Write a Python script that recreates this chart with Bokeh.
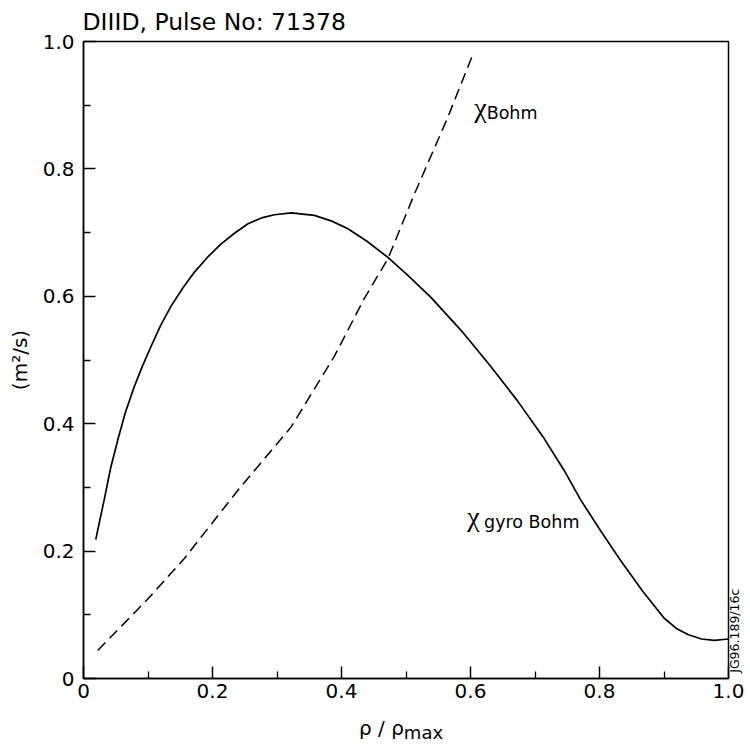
import math
from bokeh.plotting import figure
from bokeh.models import Label, FixedTicker, Range1d, LinearAxis, Div
from bokeh.layouts import column
from bokeh.embed import file_html
from bokeh.resources import INLINE

# ---- data ----
rho_gyro_bohm = [0.019, 0.026, 0.032, 0.042, 0.053, 0.065, 0.079, 0.092, 0.105, 0.120,
                 0.136, 0.154, 0.172, 0.192, 0.213, 0.234, 0.255, 0.276, 0.296, 0.322,
                 0.358, 0.385, 0.410, 0.440, 0.472, 0.505, 0.539, 0.585, 0.629, 0.672,
                 0.714, 0.745, 0.771, 0.803, 0.833, 0.867, 0.900, 0.920, 0.937, 0.958,
                 0.978, 1.000]
chi_gyro_bohm = [0.218, 0.252, 0.280, 0.330, 0.374, 0.418, 0.459, 0.492, 0.522, 0.555,
                 0.585, 0.613, 0.638, 0.661, 0.682, 0.699, 0.714, 0.723, 0.728, 0.731,
                 0.727, 0.718, 0.706, 0.686, 0.661, 0.631, 0.598, 0.547, 0.493, 0.437,
                 0.377, 0.327, 0.280, 0.230, 0.185, 0.137, 0.095, 0.078, 0.069, 0.062,
                 0.060, 0.062]

rho_bohm = [0.022, 0.099, 0.156, 0.239, 0.322, 0.389, 0.435, 0.472, 0.512, 0.530, 0.564, 0.603]
chi_bohm = [0.044, 0.124, 0.188, 0.295, 0.395, 0.506, 0.596, 0.659, 0.758, 0.800, 0.879, 0.978]

x_ticks = [0.0, 0.2, 0.4, 0.6, 0.8, 1.0]
x_tick_labels = ["0", "0.2", "0.4", "0.6", "0.8", "1.0"]
x_minor_ticks = [0.1, 0.3, 0.5, 0.7, 0.9]
y_ticks = [0.0, 0.2, 0.4, 0.6, 0.8, 1.0]
y_tick_labels = ["0", "0.2", "0.4", "0.6", "0.8", "1.0"]
y_minor_ticks = [0.1, 0.3, 0.5, 0.7, 0.9]

title_text = "DIIID, Pulse No: 71378"
y_label = "(m\u00b2/s)"
fig_code = "JG96.189/16c"
fig_code_pos = 0.009

FONT = "DejaVu Sans"
SERIF = "Liberation Serif"

p = figure(frame_width=645, frame_height=637,
           x_range=Range1d(0, 1), y_range=Range1d(0, 1),
           min_border_left=83, min_border_right=15,
           min_border_top=41, min_border_bottom=30,
           output_backend="svg", toolbar_location=None,
           title=title_text, background_fill_color="white",
           border_fill_color="white")

p.title.text_font = FONT
p.title.text_font_size = "23.5px"
p.title.text_font_style = "normal"
p.title.align = "left"
p.title.offset = -1
p.title.standoff = 11
p.title.text_color = "black"

p.grid.visible = False
p.outline_line_color = "black"
p.outline_line_width = 1.5
p.outline_line_alpha = 1.0

for ax, ticks, minor, labels in ((p.xaxis[0], x_ticks, x_minor_ticks, x_tick_labels),
                                 (p.yaxis[0], y_ticks, y_minor_ticks, y_tick_labels)):
    ax.ticker = FixedTicker(ticks=ticks, minor_ticks=minor)
    ax.major_label_overrides = {t: l for t, l in zip(ticks, labels)}
    ax.major_tick_in = 12
    ax.major_tick_out = 0
    ax.minor_tick_in = 7
    ax.minor_tick_out = 0
    ax.major_tick_line_color = "black"
    ax.minor_tick_line_color = "black"
    ax.major_tick_line_width = 1.5
    ax.minor_tick_line_width = 1.3
    ax.axis_line_color = "black"
    ax.axis_line_width = 1.5
    ax.major_label_text_font = FONT
    ax.major_label_text_font_size = "20px"
    ax.major_label_text_color = "black"

p.xaxis.major_label_standoff = 5
p.yaxis.major_label_standoff = 9
p.yaxis.axis_label = y_label
p.yaxis.axis_label_text_font = FONT
p.yaxis.axis_label_text_font_size = "20px"
p.yaxis.axis_label_text_font_style = "normal"
p.yaxis.axis_label_text_color = "black"
p.yaxis.axis_label_standoff = 8

# right axis carrying only the figure code, written bottom-to-top
code_axis = LinearAxis(ticker=FixedTicker(ticks=[fig_code_pos], minor_ticks=[]),
                       major_label_overrides={fig_code_pos: fig_code},
                       major_label_orientation=math.pi / 2,
                       major_label_text_font=FONT, major_label_text_font_size="12.5px",
                       major_label_text_color="black", major_label_standoff=6,
                       major_tick_in=0, major_tick_out=0,
                       axis_line_color=None, major_tick_line_color=None,
                       minor_tick_line_color=None)
p.add_layout(code_axis, "right")

# curves
p.line(rho_gyro_bohm, chi_gyro_bohm, line_color="black", line_width=1.7)
p.line(rho_bohm, chi_bohm, line_color="black", line_width=1.5, line_dash="11 6")

# curve labels
p.add_layout(Label(x=0.606, y=0.896, text="\u03c7", text_font=SERIF, text_font_size="28px",
                   text_align="left", text_baseline="alphabetic", text_color="black"))
p.add_layout(Label(x=0.625, y=0.887, text="Bohm", text_font=FONT, text_font_size="17.5px",
                   text_align="left", text_baseline="alphabetic", text_color="black"))
p.add_layout(Label(x=0.595, y=0.254, text="\u03c7", text_font=SERIF, text_font_size="28px",
                   text_align="left", text_baseline="alphabetic", text_color="black"))
p.add_layout(Label(x=0.621, y=0.246, text="gyro Bohm", text_font=FONT, text_font_size="17.5px",
                   text_align="left", text_baseline="alphabetic", text_color="black"))

# x axis title with a real subscript
x_label = Div(text=('<div style="padding-left:354px; padding-top:3px; font-family:\'DejaVu Sans\'; '
                    'font-size:20px; line-height:24px; color:black; white-space:nowrap;">'
                    '\u03c1 / \u03c1<sub style="font-size:18px; vertical-align:-4px;">max</sub></div>'),
              width=740, height=29)

layout = column(p, x_label, spacing=0)

open("out.html", "w").write(file_html(layout, INLINE))
